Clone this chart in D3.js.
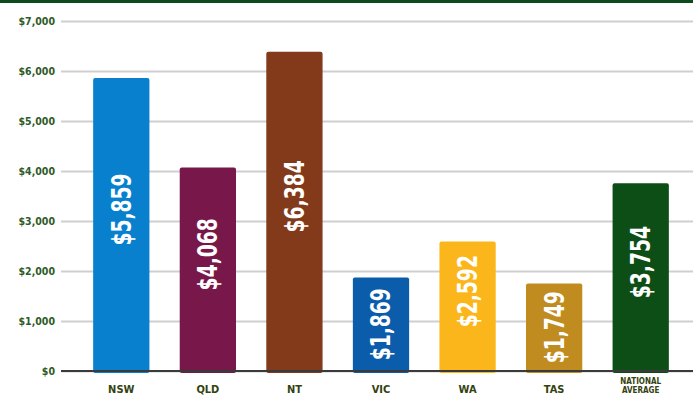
<!DOCTYPE html>
<html>
<head>
<meta charset="utf-8">
<script src="https://cdn.jsdelivr.net/npm/d3@7"></script>
<style>
  body { margin: 0; background: #fff; }
  svg { display: block; }
</style>
</head>
<body>
<div id="chart"></div>
<script>
var categories = ["NSW", "QLD", "NT", "VIC", "WA", "TAS", "NATIONAL AVERAGE"]
var values = [5859, 4068, 6384, 1869, 2592, 1749, 3754]
var colors = ["#0880ce", "#78184a", "#833a1b", "#0b5cab", "#fbb61b", "#c08c1f", "#0d4e17"]
var yTicks = [0, 1000, 2000, 3000, 4000, 5000, 6000, 7000]

var width = 693, height = 404
var margin = {top: 21, right: 0, bottom: 33, left: 61}

var svg = d3.select("#chart").append("svg")
    .attr("width", width)
    .attr("height", height)

// green strip on top
svg.append("rect")
    .attr("x", 0).attr("y", 0)
    .attr("width", width).attr("height", 3)
    .attr("fill", "#0d4a1c")

var x = d3.scaleBand()
    .domain(categories)
    .range([78, 684])
    .paddingInner(0.35)
    .paddingOuter(0.175)

var y = d3.scaleLinear()
    .domain([0, 7000])
    .range([height - margin.bottom, margin.top])

var fmt = d3.format("$,")
var font = "'DejaVu Sans Condensed', 'Liberation Sans Narrow', sans-serif"

// grid + tick labels
var yAxis = d3.axisLeft(y)
    .tickValues(yTicks)
    .tickFormat(fmt)
    .tickSize(-(width - margin.left))
    .tickPadding(6)

var gy = svg.append("g")
    .attr("transform", "translate(" + margin.left + ",0)")
    .call(yAxis)
gy.select(".domain").remove()
gy.selectAll(".tick line")
    .attr("stroke", "#cfcfcf")
    .attr("stroke-width", 2)
gy.selectAll(".tick text")
    .attr("fill", "#2f5a26")
    .style("font-family", font)
    .style("font-size", "10.5px")
    .style("font-weight", "bold")

// bars
svg.append("g")
    .selectAll("rect")
    .data(values)
    .enter().append("rect")
    .attr("x", function (d, i) { return x(categories[i]) })
    .attr("y", function (d) { return y(d) })
    .attr("width", x.bandwidth())
    .attr("height", function (d) { return y(0) - y(d) + 2 })
    .attr("rx", 2)
    .attr("fill", function (d, i) { return colors[i] })

// baseline
svg.append("line")
    .attr("x1", margin.left).attr("x2", width)
    .attr("y1", y(0)).attr("y2", y(0))
    .attr("stroke", "#3a3a3a")
    .attr("stroke-width", 2)

// values inside bars, tall condensed look
svg.append("g")
    .selectAll("text")
    .data(values)
    .enter().append("text")
    .attr("transform", function (d, i) {
        var cx = x(categories[i]) + x.bandwidth() / 2
        var h = y(0) - y(d)
        var cy = y(d) + h / 2 - (h > 120 ? 15 : 0)
        return "translate(" + cx + "," + cy + ") rotate(-90) scale(0.8,1)"
    })
    .attr("text-anchor", "middle")
    .attr("dy", "0.36em")
    .attr("fill", "#fff")
    .style("font-family", font)
    .style("font-size", "26px")
    .style("font-weight", "bold")
    .text(function (d) { return fmt(d) })

// category labels
var gx = svg.append("g")
gx.selectAll("text")
    .data(categories)
    .enter().append("text")
    .attr("x", function (d) { return x(d) + x.bandwidth() / 2 })
    .attr("y", function (d) { return d.indexOf(" ") > 0 ? 384 : 393 })
    .attr("text-anchor", "middle")
    .attr("fill", "#33420f")
    .style("font-family", font)
    .style("font-weight", "bold")
    .style("font-size", function (d) { return d.indexOf(" ") > 0 ? "8px" : "11px" })
    .each(function (d) {
        var words = d.split(" ")
        var t = d3.select(this)
        words.forEach(function (w, k) {
            t.append("tspan")
                .attr("x", x(d) + x.bandwidth() / 2)
                .attr("dy", k ? "1.1em" : 0)
                .text(w)
        })
    })
</script>
</body>
</html>
